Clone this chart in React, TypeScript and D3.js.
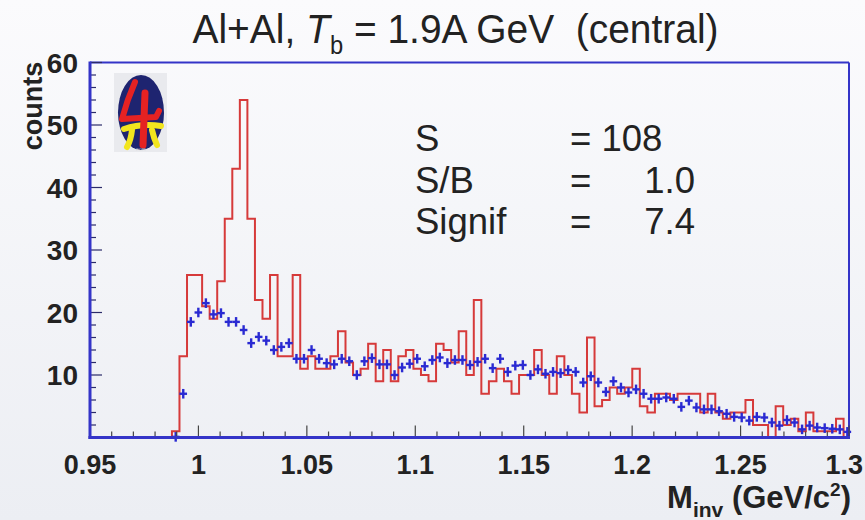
import React from "react";
import * as d3 from "d3";

// ---------- data ----------
const X_TICKS = [0.95, 1.0, 1.05, 1.1, 1.15, 1.2, 1.25, 1.3];
const X_TICK_LABELS = ["0.95", "1", "1.05", "1.1", "1.15", "1.2", "1.25", "1.3"];
const Y_TICKS = [10, 20, 30, 40, 50, 60];
const Y_TICK_LABELS = ["10", "20", "30", "40", "50", "60"];

const BIN_START = 0.9495;
const BIN_WIDTH = 0.00348;

// red histogram: measured counts per bin (100 bins)
const SIGNAL_COUNTS = [
  0, 0, 0, 0, 0, 0, 0, 0, 0, 0,
  0, 1, 13, 26, 26, 21, 19, 25, 35, 43,
  54, 35, 22, 19, 26, 13, 13, 26, 11, 13,
  11, 11, 13, 17, 12, 10, 11, 15, 9, 14,
  9, 13, 14, 11, 10, 9, 15, 14, 12, 17,
  10, 22, 7, 9, 11, 9, 7, 10, 10, 14,
  10, 7, 13, 10, 7, 4, 16, 5, 6, 8,
  7, 8, 11, 5, 4, 7, 7, 6, 7, 7,
  7, 4, 7, 4, 3, 4, 4, 6, 2, 2,
  0, 5, 2, 3, 1, 4, 1, 1, 1, 3,
];

// blue crosses: mixed-event background, from bin 11 on
const BG_FIRST_BIN = 11;
const BACKGROUND = [
  0.1, 7, 18.5, 20, 21.5, 19.7, 19.9, 18.5, 18.5,
  17.2, 15.1, 16.1, 15.5, 14, 14.5, 15.1, 12.6, 12.6, 14,
  12.6, 11.9, 11.7, 12.6, 12.2, 10, 12.2, 12.7, 11.7, 11.7,
  10, 11.2, 11.8, 12.6, 11.4, 12.4, 12.8, 11.9, 12.4, 12.4,
  11.6, 12.1, 12.6, 11.1, 12.6, 10.5, 11.5, 11.6, 10, 10.9,
  10.2, 10.5, 10.3, 10.8, 10.5, 8.8, 9.8, 8.8, 7.3, 9,
  8, 7.2, 7.7, 7, 6.2, 6.2, 6.4, 6.2, 4.9, 5.9,
  4.8, 4.5, 4.5, 4.2, 3.8, 3.3, 3.2, 2.7, 3.3, 3.2,
  2.4, 1.9, 2.8, 2.4, 1.3, 1.9, 1.6, 1.5, 1.4, 1.3,
  0.9,
];

const STATS_LABELS = ["S", "S/B", "Signif"];
const STATS_VALUES = ["108", "1.0", "7.4"];

// ---------- layout ----------
const W = 865;
const H = 520;
const PLOT = { left: 90, right: 849, top: 62.5, bottom: 437.5 };

export default function App() {
  const x = d3.scaleLinear().domain([0.95, 1.3]).range([PLOT.left, PLOT.right]);
  const y = d3.scaleLinear().domain([0, 60]).range([PLOT.bottom, PLOT.top]);

  // red step outline
  const pts: [number, number][] = [];
  SIGNAL_COUNTS.forEach((c, i) => {
    const lo = BIN_START + i * BIN_WIDTH;
    const hi = lo + BIN_WIDTH;
    pts.push([x(lo), y(c)]);
    pts.push([x(hi), y(c)]);
  });
  pts.push([x(BIN_START + SIGNAL_COUNTS.length * BIN_WIDTH), y(0)]);
  const stepPath = d3.line()(pts) || "";

  const xMinor = d3.range(95, 131).map((v) => v / 100);
  const yMinor = d3.range(0, 61, 2);

  const font = "'Liberation Sans', Arial, Helvetica, sans-serif";
  const blue = "#3434c8";

  return (
    <svg
      width={W}
      height={H}
      viewBox={`0 0 ${W} ${H}`}
      style={{ position: "fixed", left: 0, top: 0, display: "block" }}
      fontFamily={font}
    >
      <defs>
        <linearGradient id="bg" x1="0" y1="0" x2="0" y2="1">
          <stop offset="0" stopColor="#fbfbfd" />
          <stop offset="1" stopColor="#eceef3" />
        </linearGradient>
      </defs>
      <rect x={0} y={0} width={W} height={H} fill="url(#bg)" />

      {/* title */}
      <text
        transform="translate(455.5,43) scale(0.95,1)"
        textAnchor="middle"
        fontSize={41}
        fill="#222"
        style={{ whiteSpace: "pre" }}
      >
        {"Al+Al, "}
        <tspan fontStyle="italic">T</tspan>
        <tspan fontSize={25} dy={11}>b</tspan>
        <tspan dy={-11}>{" = 1.9A GeV  (central)"}</tspan>
      </text>

      {/* red histogram */}
      <path d={stepPath} fill="none" stroke="#d63a3a" strokeWidth={2} strokeLinejoin="miter" />

      {/* blue crosses */}
      {BACKGROUND.map((v, k) => {
        const i = BG_FIRST_BIN + k;
        const xc = x(BIN_START + (i + 0.5) * BIN_WIDTH);
        const yc = y(v);
        return (
          <g key={k} stroke="#2a2ad2" strokeWidth={2.4}>
            <line x1={xc - 3.8} x2={xc + 3.8} y1={yc} y2={yc} />
            <line x1={xc} x2={xc} y1={yc - 4.8} y2={yc + 4.8} />
          </g>
        );
      })}

      {/* frame */}
      <line x1={PLOT.left} x2={PLOT.right} y1={PLOT.top} y2={PLOT.top} stroke={blue} strokeWidth={2} />
      <line x1={PLOT.right} x2={PLOT.right} y1={PLOT.top} y2={PLOT.bottom} stroke={blue} strokeWidth={2} />

      {/* y ticks */}
      {yMinor.map((v) => {
        const major = v % 10 === 0;
        return (
          <line
            key={"ym" + v}
            x1={PLOT.left}
            x2={PLOT.left + (major ? 12 : 6)}
            y1={y(v)}
            y2={y(v)}
            stroke="#2b2b6a"
            strokeWidth={1.2}
          />
        );
      })}
      {/* x ticks */}
      {xMinor.map((v, i) => {
        const major = i % 5 === 0;
        return (
          <line
            key={"xm" + i}
            x1={x(v)}
            x2={x(v)}
            y1={PLOT.bottom}
            y2={PLOT.bottom - (major ? 12 : 6)}
            stroke="#444"
            strokeWidth={1.2}
          />
        );
      })}

      <line x1={PLOT.left} x2={PLOT.left} y1={PLOT.top - 1} y2={PLOT.bottom + 1.5} stroke={blue} strokeWidth={3} />
      <line x1={PLOT.left - 1.5} x2={PLOT.right + 1} y1={PLOT.bottom} y2={PLOT.bottom} stroke={blue} strokeWidth={3} />

      {/* y labels */}
      {Y_TICKS.map((v, i) => (
        <text
          key={"yl" + v}
          x={78}
          y={y(v) + 10}
          textAnchor="end"
          fontSize={28}
          fontWeight="bold"
          fill="#222"
        >
          {Y_TICK_LABELS[i]}
        </text>
      ))}
      {/* x labels */}
      {X_TICKS.map((v, i) => {
        const last = i === X_TICKS.length - 1;
        return (
          <text
            key={"xl" + i}
            x={last ? W - 2 : x(v)}
            y={474}
            textAnchor={last ? "end" : "middle"}
            fontSize={27}
            fontWeight="bold"
            fill="#222"
          >
            {X_TICK_LABELS[i]}
          </text>
        );
      })}

      {/* axis titles */}
      <text
        transform="translate(42,106) rotate(-90)"
        textAnchor="middle"
        fontSize={27}
        fontWeight="bold"
        fill="#222"
      >
        counts
      </text>
      <text x={851} y={508} textAnchor="end" fontSize={31} fontWeight="bold" fill="#222">
        M
        <tspan fontSize={21} dy={9}>inv</tspan>
        <tspan dy={-9}>{" (GeV/c"}</tspan>
        <tspan fontSize={19} dy={-12}>2</tspan>
        <tspan dy={12}>)</tspan>
      </text>

      {/* statistics box */}
      {STATS_LABELS.map((lab, i) => {
        const yy = 151 + i * 41.5;
        return (
          <g key={"st" + i} fontSize={36.5} fill="#222">
            <text x={415} y={yy}>{lab}</text>
            {i === 0 ? (
              <text x={570} y={yy} style={{ whiteSpace: "pre" }}>{"= " + STATS_VALUES[i]}</text>
            ) : (
              <>
                <text x={570} y={yy}>=</text>
                <text x={695} y={yy} textAnchor="end">{STATS_VALUES[i]}</text>
              </>
            )}
          </g>
        );
      })}

      {/* FOPI logo */}
      <g>
        <rect x={114} y={73} width={53} height={79} fill="#e9eaee" />
        <ellipse cx={141} cy={112.5} rx={23} ry={37.5} fill="#1e2470" />
        <path d="M124 129 Q142 123 161 126" fill="none" stroke="#f2e51e" strokeWidth={6} strokeLinecap="round" />
        <path d="M132 130 Q131 140 127 147" fill="none" stroke="#f2e51e" strokeWidth={6} strokeLinecap="round" />
        <path d="M152 130 Q154 139 157 145" fill="none" stroke="#f2e51e" strokeWidth={6} strokeLinecap="round" />
        <path d="M135 82 Q127 100 122 119 L156 117 L159 111" fill="none" stroke="#e52222" strokeWidth={6} strokeLinecap="round" strokeLinejoin="round" />
        <path d="M145 93 L143 145" fill="none" stroke="#e52222" strokeWidth={7} strokeLinecap="round" />
        <text x={141} y={151} textAnchor="middle" fontSize={4} fill="#ddd">FOPI</text>
      </g>
    </svg>
  );
}
